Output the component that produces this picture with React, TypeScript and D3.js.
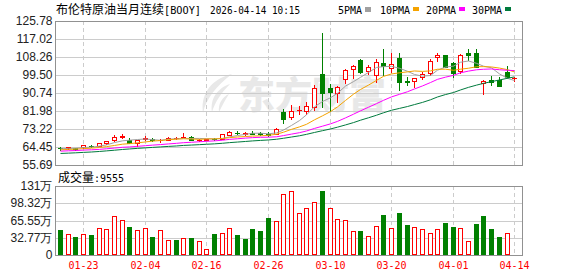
import React from "react";
import * as d3 from "d3";

// ---- data ----
const dates = [
  "01-20", "01-21", "01-22", "01-23", "01-26", "01-27", "01-28", "01-29", "01-30", "02-02",
  "02-03", "02-04", "02-05", "02-06", "02-09", "02-10", "02-11", "02-12", "02-13", "02-16",
  "02-17", "02-18", "02-19", "02-20", "02-23", "02-24", "02-25", "02-26", "02-27", "03-02",
  "03-03", "03-04", "03-05", "03-06", "03-09", "03-10", "03-11", "03-12", "03-13", "03-16",
  "03-17", "03-18", "03-19", "03-20", "03-23", "03-24", "03-25", "03-26", "03-27", "03-30",
  "03-31", "04-01", "04-02", "04-06", "04-07", "04-08", "04-09", "04-10", "04-13", "04-14",
];
const opens = [
  64.0, 63.8, 64.0, 64.3, 65.0, 65.1, 66.6, 67.7, 69.4, 68.0,
  66.4, 68.4, 68.3, 67.85, 67.9, 68.6, 69.4, 69.2, 67.9, 68.0,
  68.3, 68.4, 70.5, 71.4, 71.0, 71.2, 71.2, 71.0, 71.0, 81.3,
  79.2, 82.4, 82.1, 83.8, 100.0, 93.0, 90.6, 97.4, 102.3, 106.8,
  101.6, 99.5, 105.5, 102.8, 107.6, 96.6, 96.8, 98.5, 100.3, 108.1,
  109.2, 105.5, 101.4, 110.1, 110.1, 95.4, 96.9, 97.1, 101.1, 98.1,
];
const highs = [
  64.6, 64.6, 64.2, 65.4, 65.5, 66.3, 67.5, 70.5, 70.6, 69.0,
  68.1, 69.8, 68.9, 68.3, 69.3, 69.4, 71.1, 69.8, 68.2, 68.5,
  68.9, 70.9, 72.0, 72.0, 71.8, 72.0, 71.8, 71.6, 73.6, 82.8,
  84.9, 84.4, 86.5, 94.6, 119.9, 95.2, 94.0, 102.2, 104.3, 107.5,
  104.6, 107.3, 112.0, 110.1, 110.1, 98.7, 98.2, 100.8, 107.1, 110.1,
  109.4, 105.8, 109.7, 112.0, 112.0, 97.0, 99.2, 98.6, 103.9, 98.3,
];
const lows = [
  63.2, 63.6, 62.8, 64.1, 64.3, 64.9, 65.8, 67.5, 68.6, 66.2,
  65.1, 67.9, 67.6, 66.8, 67.7, 68.2, 69.3, 67.7, 67.6, 67.8,
  67.7, 68.2, 70.3, 70.8, 70.5, 70.6, 70.3, 70.0, 70.7, 76.0,
  78.1, 80.4, 80.4, 82.5, 83.9, 82.0, 86.5, 95.4, 98.2, 100.5,
  100.0, 96.2, 99.5, 101.1, 92.2, 94.6, 93.8, 97.6, 99.5, 106.3,
  103.3, 98.7, 100.3, 106.8, 103.3, 90.2, 94.6, 94.2, 97.9, 96.7,
];
const closes = [
  63.8, 64.3, 63.7, 65.3, 64.8, 66.2, 67.4, 69.3, 69.6, 66.3,
  67.9, 68.6, 67.8, 68.0, 69.0, 68.7, 69.5, 67.9, 68.0, 68.3,
  68.2, 70.6, 71.8, 71.3, 71.1, 70.9, 70.7, 70.4, 73.4, 78.1,
  82.1, 82.6, 84.4, 93.0, 90.7, 91.4, 93.5, 101.9, 103.9, 101.1,
  103.3, 105.6, 103.9, 104.7, 96.3, 96.0, 97.9, 99.8, 106.3, 109.2,
  103.5, 100.3, 109.2, 109.4, 103.5, 96.6, 96.3, 94.3, 98.6, 98.2,
];
// closes before the first visible bar (needed by the moving averages)
const priorCloses = [
  59.5, 59.2, 58.8, 59.1, 58.6, 58.9, 59.4, 59.0, 58.7, 59.3,
  61.0, 61.3, 60.9, 61.6, 62.0, 61.8, 62.4, 62.1, 62.6, 62.3,
  62.2, 62.5, 62.7, 62.5, 62.9, 63.3, 63.6, 63.3, 63.9,
];
// volume in 万
const volumes = [
  47.5, 39.9, 34.2, 39.9, 38.0, 50.7, 49.4, 74.1, 66.5, 53.2,
  46.9, 50.7, 34.2, 47.5, 28.5, 28.5, 31.7, 32.3, 26.6, 11.4,
  39.9, 41.8, 50.7, 38.0, 30.4, 49.4, 45.6, 70.3, 64.0, 115.9,
  121.6, 79.8, 88.7, 100.1, 121.6, 88.7, 67.8, 65.9, 45.0, 45.0,
  35.5, 54.5, 76.0, 50.7, 79.8, 57.0, 52.6, 48.8, 41.2, 48.8,
  60.8, 53.2, 50.7, 26.6, 58.9, 74.1, 49.4, 34.2, 41.2, 0.9555,
];
const priceTicks = [125.78, 117.02, 108.26, 99.5, 90.74, 81.98, 73.22, 64.45, 55.69];
const volMax = 131.08;
const volTickLabels = ["131万", "98.32万", "65.55万", "32.77万", "0"];
const xTickDates = ["01-23", "02-04", "02-16", "02-26", "03-10", "03-20", "04-01", "04-14"];
const maPeriods = [5, 10, 20, 30];
const maNames = ["5PMA", "10PMA", "20PMA", "30PMA"];
const maColors = ["#a0a0a0", "#f5a300", "#ff00ff", "#007a3d"];
const titleCn = "布伦特原油当月连续";
const titleCode = "[BOOY]";
const titleTime = "2026-04-14 10:15";
const volLabel = "成交量";
const volNow = "9555";

const RED = "#ff0000";
const GREEN = "#008000";
const GRID = "#cccccc";
const FRAME = "#919191";
const CN = "'Noto Sans CJK SC', sans-serif";
const MONO = "'DejaVu Sans Mono', monospace";
const SANS = "'Liberation Sans', Arial, sans-serif";

export default function App() {
  const W = 578, H = 276;
  const left = 55, right = 522;
  const mainTop = 21, mainBottom = 165;
  const volTop = 186, volBottom = 255;
  const n = closes.length;

  const x = d3.scaleLinear().domain([0, n - 1]).range([60, 514.3]);
  const y = d3.scaleLinear().domain([priceTicks[priceTicks.length - 1], priceTicks[0]]).range([mainBottom, mainTop]);
  const yv = d3.scaleLinear().domain([0, volMax]).range([volBottom, volTop]);
  const cx = (i: number) => Math.round(x(i));
  const crisp = (v: number) => Math.round(v) + 0.5;

  const all = priorCloses.concat(closes);
  const off = priorCloses.length;
  const maSeries = maPeriods.map((p) =>
    closes.map((_, i) => d3.mean(all.slice(i + off - p + 1, i + off + 1)) as number)
  );

  const xTickIdx = xTickDates.map((d) => dates.indexOf(d));
  const volTicks = volTickLabels.map((_, k) => volMax - (k * volMax) / (volTickLabels.length - 1));

  const line = d3
    .line<number>()
    .x((_, i) => cx(i) + 0.5)
    .y((v) => y(v));

  return (
    <svg width={W} height={H} style={{ position: "absolute", left: 0, top: 0, background: "#fff" }}>
      <rect x={0} y={0} width={W} height={H} fill="#fff" />
      {/* title */}
      <text x={56} y={13.5} fontSize={12} fontFamily={CN} fill="#000">{titleCn}</text>
      <text x={164} y={13.5} fontSize={10} fontFamily={MONO} fill="#000" textLength={37} lengthAdjust="spacingAndGlyphs">{titleCode}</text>
      <text x={210} y={13.5} fontSize={10} fontFamily={MONO} fill="#000" textLength={90} lengthAdjust="spacingAndGlyphs">{titleTime}</text>
      {/* legend */}
      {maNames.map((nm, k) => {
        const lx = [338, 380, 426, 472][k];
        const w = nm.length * 6;
        return (
          <g key={nm}>
            <text x={lx} y={13.5} fontSize={10} fontFamily={MONO} fill="#000">{nm}</text>
            <rect x={lx + w + 3} y={7} width={6} height={k === 0 ? 5 : 4} fill={maColors[k]} />
          </g>
        );
      })}

      {/* watermark */}
      <g fill="#e6e6e6" opacity={0.9}>
        <path d="M232 74 C214 78 200 92 203 113 C206 99 216 86 232 74 Z" />
        <path d="M230 84 C218 88 210 98 212 112 C215 102 221 93 230 84 Z" />
        <path d="M229 94 C222 97 218 104 219 112 C222 106 225 100 229 94 Z" />
        <text x={238} y={109} fontSize={37} fontWeight={900} fontFamily={CN}>东方财富</text>
      </g>

      {/* main grid */}
      {priceTicks.slice(1, -1).map((t) => (
        <line key={"h" + t} x1={left} x2={right} y1={crisp(y(t))} y2={crisp(y(t))} stroke={GRID} />
      ))}
      {xTickIdx.map((i) => (
        <line key={"v" + i} x1={cx(i) + 0.5} x2={cx(i) + 0.5} y1={mainTop} y2={mainBottom} stroke={GRID} strokeDasharray="4,3" />
      ))}
      {/* volume grid */}
      {volTicks.slice(1, -1).map((t) => (
        <line key={"vh" + t} x1={left} x2={right} y1={crisp(yv(t))} y2={crisp(yv(t))} stroke={GRID} />
      ))}
      {xTickIdx.map((i) => (
        <line key={"vv" + i} x1={cx(i) + 0.5} x2={cx(i) + 0.5} y1={volTop} y2={volBottom} stroke={GRID} strokeDasharray="4,3" />
      ))}

      {/* candles */}
      {closes.map((c, i) => {
        const o = opens[i];
        const up = c >= o;
        const col = up ? RED : GREEN;
        const px = cx(i);
        const yT = Math.round(y(Math.max(o, c)));
        const yB = Math.round(y(Math.min(o, c)));
        return (
          <g key={"k" + i}>
            <line x1={px + 0.5} x2={px + 0.5} y1={Math.round(y(highs[i]))} y2={Math.round(y(lows[i])) + 1} stroke={col} />
            {yB - yT < 1 ? (
              <line x1={px - 2} x2={px + 3} y1={yT + 0.5} y2={yT + 0.5} stroke={col} />
            ) : (
              <rect x={px - 1.5} y={yT + 0.5} width={4} height={yB - yT} fill={up ? "#fff" : GREEN} stroke={col} />
            )}
          </g>
        );
      })}
      {/* moving averages */}
      {maSeries.map((s, k) => (
        <path key={"ma" + k} d={line(s) || ""} fill="none" stroke={maColors[k]} strokeWidth={1} />
      ))}

      {/* volume bars */}
      {volumes.map((v, i) => {
        const up = i === 0 ? closes[0] >= opens[0] : closes[i] >= closes[i - 1];
        const px = cx(i);
        const top = Math.round(yv(v));
        const h = Math.max(0, volBottom - top - 1);
        return (
          <rect key={"v" + i} x={px - 1.5} y={Math.min(top, volBottom - 1) + 0.5} width={4} height={h}
            fill={up ? "#fff" : GREEN} stroke={up ? RED : GREEN} />
        );
      })}

      {/* frames */}
      <rect x={left + 0.5} y={mainTop + 0.5} width={right - left} height={mainBottom - mainTop} fill="none" stroke={FRAME} />
      <rect x={left + 0.5} y={volTop + 0.5} width={right - left} height={volBottom - volTop} fill="none" stroke={FRAME} />

      {/* y axis labels */}
      {priceTicks.map((t) => (
        <text key={"pl" + t} x={52.5} y={y(t)} dy="0.35em" textAnchor="end" fontSize={12} fontFamily={SANS} fill="#222">
          {t.toFixed(2)}
        </text>
      ))}
      {volTicks.map((t, k) => (
        <text key={"vl" + k} x={52.5} y={yv(t)} dy="0.35em" textAnchor="end" fontSize={12} fontFamily={SANS} fill="#222">
          {volTickLabels[k]}
        </text>
      ))}

      {/* volume title */}
      <text x={58} y={182} fontSize={12} fontFamily={CN} fill="#000">{volLabel}</text>
      <text x={94} y={182} fontSize={10} fontFamily={MONO} fill="#000">{":" + volNow}</text>

      {/* x labels */}
      {xTickIdx.map((i, k) => (
        <text key={"xl" + k} x={cx(i) + 0.5} y={269} textAnchor="middle" fontSize={10} fontFamily={MONO} fill={RED}>
          {xTickDates[k]}
        </text>
      ))}
    </svg>
  );
}
